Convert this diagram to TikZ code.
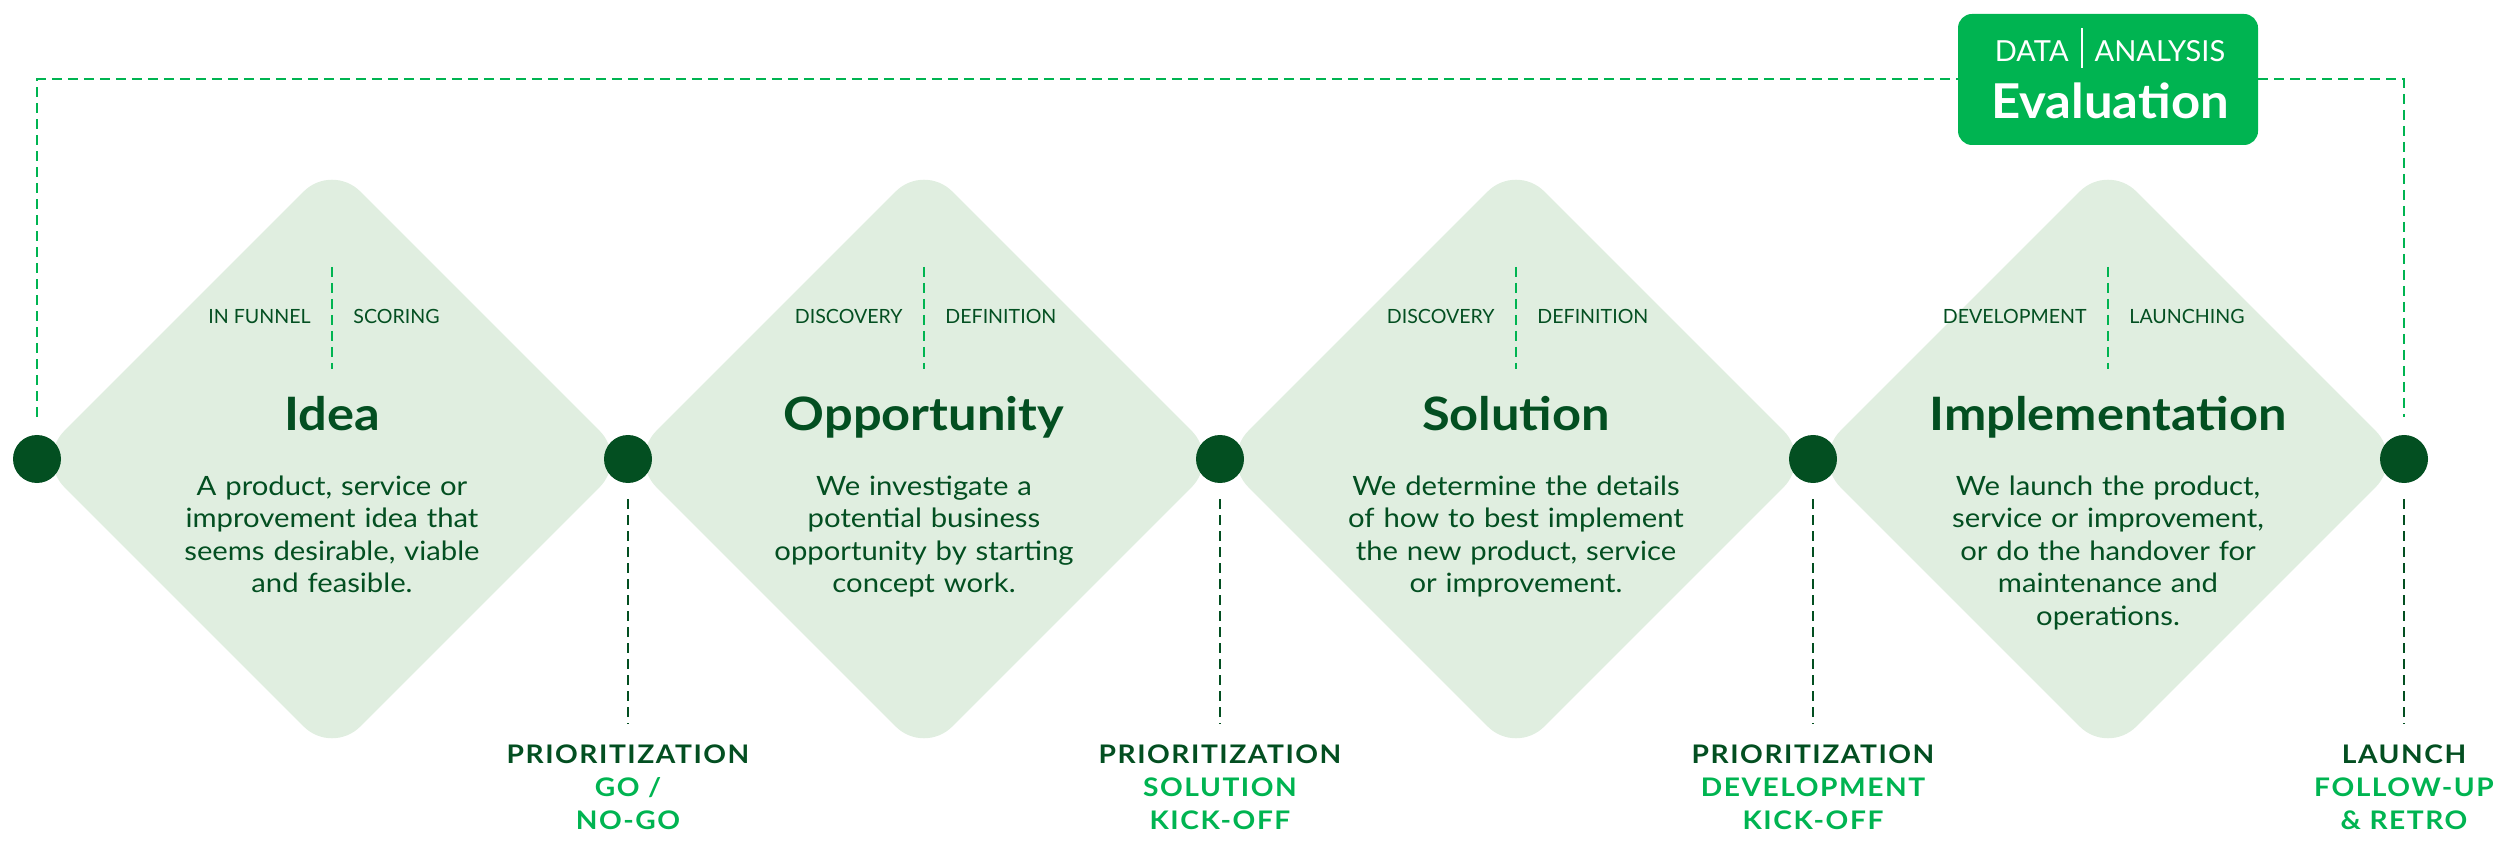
\documentclass[tikz,border=0pt]{standalone}
\usepackage{fontspec}
\setmainfont{Lato}
\newfontfamily\widefont{Lato}[FakeStretch=1.1]
\newfontfamily\msfont{Lato}[FakeStretch=1.1, LetterSpace=6]
\newfontfamily\evfont{Lato}[FakeStretch=1.06]
\usetikzlibrary{shapes.geometric}
\definecolor{dkgreen}{HTML}{034F21}
\definecolor{brgreen}{HTML}{00B451}
\definecolor{ltgreen}{HTML}{E0EEE0}
\begin{document}
\begin{tikzpicture}[x=0.5pt,y=-0.5pt,
  phase/.style={diamond, fill=ltgreen, draw=none, minimum width=296pt, minimum height=296pt, inner sep=0pt, rounded corners=20pt},
  gate/.style={circle, fill=dkgreen, minimum size=24pt, inner sep=0pt},
  ptitle/.style={font=\widefont\fontsize{23}{27}\selectfont\bfseries, text=dkgreen, anchor=base, inner sep=0pt},
  pbody/.style={font=\widefont\fontsize{13.3}{16.3}\selectfont, text=dkgreen, text width=210pt, align=center, anchor=base, inner sep=0pt},
  ptag/.style={font=\fontsize{9.8}{12}\selectfont, text=dkgreen, inner sep=0pt},
  divline/.style={draw=brgreen, line width=1pt, dash pattern=on 5pt off 3pt},
  loopline/.style={draw=brgreen, line width=1pt, dash pattern=on 5pt off 3pt},
  gateline/.style={draw=dkgreen, line width=1pt, dash pattern=on 5pt off 3pt},
  milestone/.style={font=\msfont\fontsize{12.8}{16.5}\selectfont\bfseries, text=dkgreen, text width=170pt, align=center, anchor=base, inner sep=0pt},
  evalbox/.style={fill=brgreen, draw=none, rounded corners=7pt, minimum width=150pt, minimum height=65.5pt, inner sep=0pt},
  evtag/.style={font=\fontsize{14.5}{17}\selectfont, text=white, anchor=base, inner sep=0pt},
  evtitle/.style={font=\evfont\fontsize{24}{28}\selectfont\bfseries, text=white, anchor=base, inner sep=0pt}
]
\useasboundingbox (0,0) rectangle (2500,844);
% phases
\node[phase] (d1) at (332,459) {};
\node[phase] (d2) at (924,459) {};
\node[phase] (d3) at (1516,459) {};
\node[phase] (d4) at (2108,459) {};
% gates
\node[gate] (g0) at (37,459) {};
\node[gate] (g1) at (628,459) {};
\node[gate] (g2) at (1220,459) {};
\node[gate] (g3) at (1813,459) {};
\node[gate] (g4) at (2404,459) {};
% dividers and tags
\foreach \cx/\la/\lb/\nm in {332/IN FUNNEL/SCORING/a, 924/DISCOVERY/DEFINITION/b, 1516/DISCOVERY/DEFINITION/c, 2108/DEVELOPMENT/LAUNCHING/d}{
  \coordinate (dv\nm t) at (\cx,267);
  \coordinate (dv\nm b) at (\cx,369);
  \draw[divline] (dv\nm t) -- (dv\nm b);
  \node[ptag, anchor=base east] (tl\nm) at (\cx-21,324) {\la};
  \node[ptag, anchor=base west] (tr\nm) at (\cx+21,324) {\lb};
}
% titles
\node[ptitle] (t1) at (332,430) {Idea};
\node[ptitle] (t2) at (924,430) {Opportunity};
\node[ptitle] (t3) at (1516,430) {Solution};
\node[ptitle] (t4) at (2108,430) {Implementation};
% bodies
\node[pbody] (b1) at (332,495) {A product, service or\\improvement idea that\\seems desirable, viable\\and feasible.};
\node[pbody] (b2) at (924,495) {We investigate a\\potential business\\opportunity by starting\\concept work.};
\node[pbody] (b3) at (1516,495) {We determine the details\\of how to best implement\\the new product, service\\or improvement.};
\node[pbody] (b4) at (2108,495) {We launch the product,\\service or improvement,\\or do the handover for\\maintenance and\\operations.};
% milestones
\node[milestone] (m1) at (628,763) {PRIORITIZATION\\\textcolor{brgreen}{GO /}\\\textcolor{brgreen}{NO-GO}};
\node[milestone] (m2) at (1220,763) {PRIORITIZATION\\\textcolor{brgreen}{SOLUTION}\\\textcolor{brgreen}{KICK-OFF}};
\node[milestone] (m3) at (1813,763) {PRIORITIZATION\\\textcolor{brgreen}{DEVELOPMENT}\\\textcolor{brgreen}{KICK-OFF}};
\node[milestone] (m4) at (2404,763) {LAUNCH\\\textcolor{brgreen}{FOLLOW-UP}\\\textcolor{brgreen}{\& RETRO}};
\foreach \i in {1,2,3,4}{
  \draw[gateline, shorten <=8pt, shorten >=10pt] (g\i.south) -- (m\i.north);
}
% evaluation
\node[evalbox] (ev) at (2108,79.5) {};
\node[evtag] (evt) at (2110,62) {DATA\hspace{6pt}\rule[-3pt]{1pt}{20pt}\hspace{6pt}ANALYSIS};
\node[evtitle] (evn) at (2110,119) {Evaluation};
\draw[loopline, shorten <=9pt] (g0.north) |- (ev.west);
\draw[loopline, shorten >=9pt] (ev.east) -| (g4.north);
\end{tikzpicture}
\end{document}
